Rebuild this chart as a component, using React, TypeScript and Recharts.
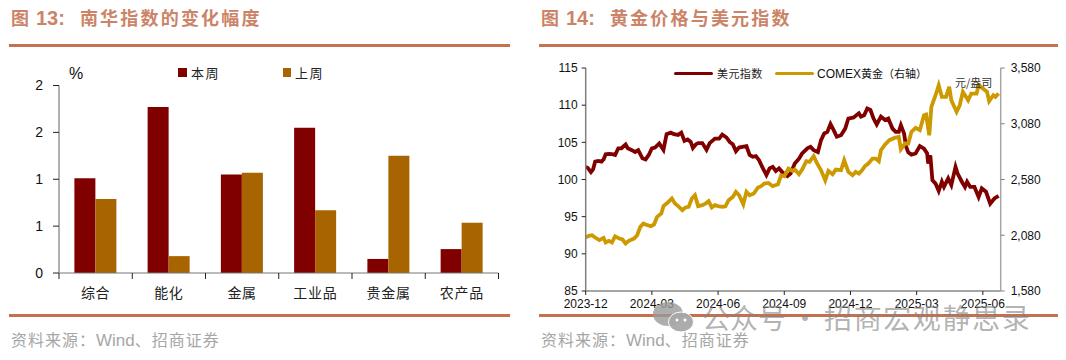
import React from 'react';
import { BarChart, Bar, XAxis, YAxis, LineChart, Line } from 'recharts';

const categories = ['综合', '能化', '金属', '工业品', '贵金属', '农产品'];
const thisWeek = [1.01, 1.77, 1.05, 1.55, 0.15, 0.255];
const lastWeek = [0.79, 0.18, 1.07, 0.67, 1.25, 0.535];
const barTicks = [0, 0.5, 1, 1.5, 2];

const usdDays = [
  0, 2, 5, 7, 9, 12, 15, 17, 19, 22, 25, 28, 31, 34, 38, 40, 44, 47, 50, 54, 57, 60, 63, 66, 70, 74, 77, 81, 84, 88, 91, 94, 97, 100, 102, 105, 107, 111, 115, 118, 123,
  127, 130, 134, 137, 140, 143, 146, 149, 153, 156, 159, 162, 165, 168, 172, 175, 178, 181, 184, 187, 192, 195, 199, 203, 206, 211, 214, 217, 221, 224, 227, 230, 233, 236, 239, 243, 247, 250, 255,
  260, 262, 265, 268, 271, 274, 277, 281, 285, 288, 292, 295, 298, 300, 303, 305, 307, 310, 314, 318, 322, 325, 326, 328, 330, 333, 336, 339, 341, 345, 348, 352, 354, 358, 361, 363, 366, 370, 374, 377, 381, 385, 389, 393,
];
const usdValues = [
  101.7, 101.56, 101.0, 101.35, 102.4, 102.5, 102.4, 102.7, 103.4, 103.45, 103.4, 103.3, 104.2, 104.2, 104.7, 104.2, 103.95, 103.7, 103.95, 102.85, 102.7, 103.3, 104.2, 104.3, 104.85, 104.0, 106.1, 106.3, 106.1, 106.0, 106.3, 105.2, 105.4, 105.05, 104.25, 104.75, 104.9, 104.9, 104.0, 104.9, 105.5,
  105.5, 106.05, 105.65, 105.05, 104.75, 103.8, 104.3, 104.4, 104.5, 103.3, 103.05, 103.15, 102.6, 101.7, 100.6, 101.5, 101.7, 101.15, 101.5, 101.0, 100.45, 100.8, 102.15, 102.8, 103.5, 104.2, 104.4, 103.95, 103.7, 105.3, 106.2, 106.4, 107.45, 106.65, 105.75, 105.95, 106.85, 108.2, 108.35,
  108.9, 108.45, 108.65, 109.55, 109.35, 108.2, 107.4, 108.45, 108.0, 108.2, 106.85, 106.4, 106.4, 107.3, 106.2, 104.4, 103.65, 103.35, 103.5, 104.5, 104.15, 103.5, 102.15, 103.25, 99.9, 99.45, 98.45, 99.7, 99.0, 100.15, 99.25, 101.7, 100.8, 99.7, 99.0, 99.7, 99.0, 99.0, 97.65, 98.8, 98.35, 96.75, 97.45, 97.8,
];
const goldDays = [
  0, 3, 6, 9, 13, 17, 19, 22, 25, 28, 32, 35, 38, 41, 46, 49, 52, 55, 58, 62, 65, 68, 72, 74, 77, 82, 85, 88, 92, 95, 98, 101, 104, 107, 111, 114, 117, 120, 123, 126,
  130, 133, 136, 140, 143, 146, 150, 153, 156, 160, 164, 167, 170, 174, 178, 183, 186, 189, 193, 197, 199, 203, 206, 210, 213, 217, 220, 224, 228, 231, 235, 238, 243, 246, 250, 254, 257,
  260, 263, 266, 269, 273, 276, 279, 281, 285, 289, 294, 298, 300, 304, 307, 310, 314, 318, 322, 324, 327, 329, 333, 336, 339, 343, 346, 348, 353, 356, 359, 364, 367, 372, 374, 378, 382, 384, 388, 390, 393,
];
const goldValues = [
  2060, 2074, 2080, 2060, 2036, 2056, 2015, 2030, 2015, 2071, 2050, 2042, 2006, 2030, 2050, 2080, 2155, 2185, 2173, 2161, 2176, 2245, 2275, 2341, 2364, 2409, 2364, 2341, 2305, 2329, 2335, 2409, 2439, 2341, 2350, 2364, 2385, 2329, 2350, 2341,
  2334, 2340, 2394, 2424, 2469, 2439, 2358, 2469, 2439, 2454, 2508, 2520, 2543, 2549, 2520, 2537, 2618, 2609, 2678, 2657, 2669, 2627, 2669, 2744, 2738, 2789, 2729, 2663, 2573, 2657, 2627, 2669, 2663, 2753, 2648, 2618, 2648,
  2633, 2663, 2702, 2723, 2768, 2768, 2744, 2843, 2894, 2933, 2953, 2962, 2852, 2903, 2903, 3007, 3043, 3022, 3157, 3163, 2977, 3231, 3336, 3426, 3321, 3321, 3411, 3291, 3187, 3246, 3366, 3291, 3351, 3351, 3426, 3396, 3366, 3282, 3336, 3321, 3351,
];
const dateTicks = [0, 63, 126, 189, 252, 315, 378];
const dateLabels = ['2023-12', '2024-03', '2024-06', '2024-09', '2024-12', '2025-03', '2025-06'];
const usdTicks = [85, 90, 95, 100, 105, 110, 115];
const goldTicks = [1580, 2080, 2580, 3080, 3580];

const barData = categories.map((name, i) => ({ name, thisWeek: thisWeek[i], lastWeek: lastWeek[i] }));
const usdData = usdDays.map((day, i) => ({ day, usd: usdValues[i] }));
const goldData = goldDays.map((day, i) => ({ day, gold: goldValues[i] }));

const LATIN = '"Liberation Sans", Arial, sans-serif';
const CJK = '"Noto Sans CJK SC", sans-serif';
const RULE = '#C5704F';
const TITLE = '#CB8468';
const DARK_RED = '#800000';
const BROWN = '#A86400';
const GOLD = '#CC9900';
const BAND = 439.5 / 6;

const abs = (left: number, top: number, extra: React.CSSProperties = {}): React.CSSProperties => ({
  position: 'absolute', left, top, whiteSpace: 'nowrap', ...extra,
});

// ticks sit on the category edges, the labels in the middle
const EdgeTick = ({ x, y, payload, index }: any) => (
  <g>
    <line x1={x - BAND / 2} x2={x - BAND / 2} y1={y - 8} y2={y - 2} stroke="#222" />
    {index === categories.length - 1 && (
      <line x1={x + BAND / 2} x2={x + BAND / 2} y1={y - 8} y2={y - 2} stroke="#222" />
    )}
    <text x={x} y={y + 17} textAnchor="middle" fontSize={14} letterSpacing={0.7} fontFamily={CJK} fill="#222">
      {payload.value}
    </text>
  </g>
);

const Title = ({ left, num, text }: { left: number; num: string; text: string }) => (
  <div style={abs(left, 4, { color: TITLE, fontSize: 18, fontWeight: 700, fontFamily: CJK, lineHeight: '27px' })}>
    图<span style={{ fontFamily: LATIN, fontSize: 20, marginLeft: 7 }}>{num}:</span>
    <span style={{ marginLeft: 15, letterSpacing: 2.2 }}>{text}</span>
  </div>
);

const Source = ({ left }: { left: number }) => (
  <div style={abs(left, 329, { color: '#A6A6A6', fontSize: 16, fontFamily: CJK, lineHeight: '20px', letterSpacing: 1 })}>
    {'资料来源\uFF1A'}<span style={{ fontFamily: LATIN, fontSize: 17, letterSpacing: 0 }}>Wind</span>{'\u3001招商证券'}
  </div>
);

const Rule = ({ left, width, top }: { left: number; width: number; top: number }) => (
  <div style={abs(left, top, { width, height: 3, background: RULE })} />
);

export default function App() {
  return (
    <div style={{ position: 'absolute', left: 0, top: 0, width: 1066, height: 360, background: '#fff', overflow: 'hidden' }}>
      <Title left={11} num="13" text="南华指数的变化幅度" />
      <Rule left={9} width={501} top={44} />
      <Rule left={9} width={501} top={314} />
      <Source left={11} />

      <div style={abs(0, 60)}>
        <BarChart
          width={530}
          height={250}
          data={barData}
          margin={{ top: 25.5, right: 31.5, left: 0, bottom: 0 }}
          barCategoryGap="21%"
          barGap={0}
        >
          <XAxis dataKey="name" height={37} interval={0} tickLine={false} axisLine={{ stroke: '#777', strokeWidth: 1 }} tick={EdgeTick} />
          <YAxis
            width={59}
            domain={[0, 2]}
            ticks={barTicks}
            tickFormatter={(v: number) => String(Math.round(v))}
            tick={{ fontSize: 14, fontFamily: LATIN, fill: '#111' }}
            tickLine={{ stroke: '#222' }}
            tickSize={6}
            tickMargin={10}
            axisLine={{ stroke: '#B0B0B0', strokeWidth: 2 }}
          />
          <Bar dataKey="thisWeek" fill={DARK_RED} isAnimationActive={false} />
          <Bar dataKey="lastWeek" fill={BROWN} isAnimationActive={false} />
        </BarChart>
      </div>
      <div style={abs(69, 65, { fontSize: 16, fontFamily: LATIN, color: '#111' })}>%</div>
      <div style={abs(178, 68, { width: 9, height: 9, background: DARK_RED })} />
      <div style={abs(191, 64, { fontSize: 13, letterSpacing: 1.5, fontFamily: CJK, color: '#222', lineHeight: '18px' })}>本周</div>
      <div style={abs(283, 68, { width: 8, height: 9, background: BROWN })} />
      <div style={abs(295, 64, { fontSize: 13, letterSpacing: 1.5, fontFamily: CJK, color: '#222', lineHeight: '18px' })}>上周</div>

      <Title left={541} num="14" text="黄金价格与美元指数" />
      <Rule left={539} width={519} top={44} />
      <Rule left={539} width={519} top={314} />
      <Source left={541} />

      <div style={abs(536, 50)}>
        <LineChart width={530} height={270} margin={{ top: 18, right: 0, left: 0, bottom: 0 }}>
          <XAxis
            dataKey="day"
            type="number"
            domain={[0, 395]}
            ticks={dateTicks}
            tickFormatter={(v: number) => dateLabels[dateTicks.indexOf(v)]}
            height={29}
            tick={{ fontSize: 12, fontFamily: LATIN, fill: '#111' }}
            tickLine={{ stroke: '#222' }}
            tickSize={4}
            tickMargin={4}
            axisLine={{ stroke: '#A6A6A6', strokeWidth: 2 }}
            interval={0}
          />
          <YAxis
            yAxisId="usd"
            width={49.7}
            domain={[85, 115]}
            ticks={usdTicks}
            interval={0}
            tick={{ fontSize: 12, fontFamily: LATIN, fill: '#111' }}
            tickLine={{ stroke: '#222' }}
            tickSize={4}
            tickMargin={4}
            axisLine={{ stroke: '#808080', strokeWidth: 1.5 }}
          />
          <YAxis
            yAxisId="gold"
            orientation="right"
            width={65.3}
            domain={[1580, 3580]}
            ticks={goldTicks}
            interval={0}
            tickFormatter={(v: number) => v.toLocaleString('en-US')}
            tick={{ fontSize: 12, fontFamily: LATIN, fill: '#111' }}
            tickLine={{ stroke: '#808080' }}
            tickSize={4}
            tickMargin={6}
            axisLine={{ stroke: '#A6A6A6', strokeWidth: 1.5 }}
          />
          <Line yAxisId="usd" data={usdData} dataKey="usd" stroke={DARK_RED} strokeWidth={3.8} dot={false} isAnimationActive={false} />
          <Line yAxisId="gold" data={goldData} dataKey="gold" stroke={GOLD} strokeWidth={3.8} dot={false} isAnimationActive={false} />
        </LineChart>
      </div>
      <div style={abs(674, 71.5, { width: 39, height: 3.5, borderRadius: 2, background: DARK_RED })} />
      <div style={abs(717, 65, { fontSize: 11, letterSpacing: 0.4, fontFamily: CJK, color: '#222', lineHeight: '16px' })}>美元指数</div>
      <div style={abs(775, 71.5, { width: 39, height: 3.5, borderRadius: 2, background: GOLD })} />
      <div style={abs(817, 65, { fontSize: 12, fontFamily: LATIN, color: '#111', lineHeight: '16px' })}>
        COMEX<span style={{ fontFamily: CJK, fontSize: 11 }}>{'黄金\uFF08右轴\uFF09'}</span>
      </div>
      <div style={abs(955, 74, { fontSize: 11, fontFamily: CJK, color: '#333', lineHeight: '16px' })}>元/盎司</div>

      {/* watermark over the source line */}
      <svg style={abs(650, 300)} width={46} height={36}>
        <ellipse cx={18} cy={14} rx={15} ry={12} fill="#9A9A9A" opacity={0.8} />
        <ellipse cx={31} cy={22} rx={12.5} ry={10} fill="#A8A8A8" opacity={0.95} stroke="#fff" />
        <circle cx={27} cy={20} r={1.5} fill="#fff" />
        <circle cx={35} cy={20} r={1.5} fill="#fff" />
      </svg>
      <div style={abs(702, 300, { color: 'rgba(130,130,130,0.62)', fontSize: 28, fontFamily: CJK, lineHeight: '34px' })}>
        公众号<span style={{ margin: '0 5px' }}>·</span>
        <span style={{ letterSpacing: 1.6 }}>招商宏观静思录</span>
      </div>
    </div>
  );
}
